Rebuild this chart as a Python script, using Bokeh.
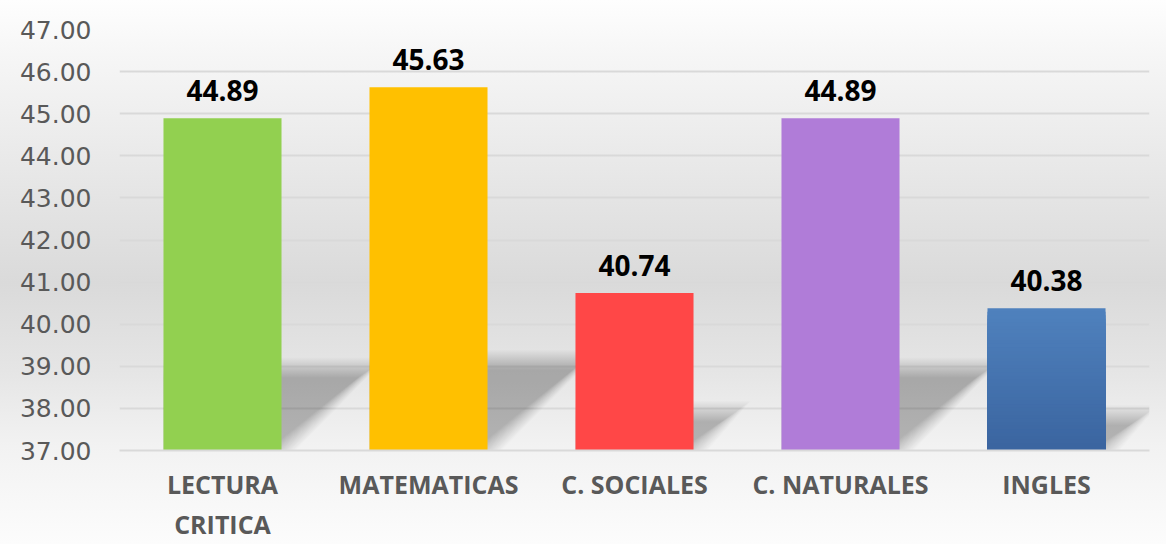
from bokeh.plotting import figure
from bokeh.models import FixedTicker, ColumnDataSource
from bokeh.core.properties import value
from bokeh.embed import file_html
from bokeh.resources import INLINE

categories = ["LECTURA\nCRITICA", "MATEMATICAS", "C. SOCIALES", "C. NATURALES", "INGLES"]
scores = [44.89, 45.63, 40.74, 44.89, 40.38]
labels = ["44.89", "45.63", "40.74", "44.89", "40.38"]
colors = ["#92d050", "#ffc000", "#ff4747", "#b07cd8", None]
y_ticks = [37, 38, 39, 40, 41, 42, 43, 44, 45, 46, 47]
y_labels = ["37.00", "38.00", "39.00", "40.00", "41.00", "42.00", "43.00", "44.00", "45.00", "46.00", "47.00"]

BASE = 37
YMAX = 47
W = 1166
H = 544
LEFT = 119
RIGHT = 17
TOP = 29
BAR_W = 0.573

p = figure(width=W, height=H, x_range=(0, len(categories)), y_range=(BASE, YMAX),
           output_backend="svg", toolbar_location=None,
           min_border_left=LEFT, min_border_right=RIGHT, min_border_top=TOP, min_border_bottom=40)
p.background_fill_alpha = 0
p.border_fill_alpha = 0
p.outline_line_color = None
p.styles = {"background-image": "linear-gradient(to bottom, #fefefe 0%, #f6f6f6 10%, #dadada 52%, #e5e5e5 68%, #f2f2f2 82%, #fcfcfc 100%)"}

# grid
p.xgrid.grid_line_color = None
p.ygrid.grid_line_color = "#d9d9d9"
p.ygrid.grid_line_width = 2
p.ygrid.ticker = FixedTicker(ticks=y_ticks)

# axes
p.yaxis.ticker = FixedTicker(ticks=y_ticks)
p.yaxis.major_label_overrides = {t: l for t, l in zip(y_ticks, y_labels)}
p.yaxis.axis_line_color = None
p.yaxis.major_tick_line_color = None
p.yaxis.minor_tick_line_color = None
p.yaxis.major_label_text_font = "DejaVu Sans"
p.yaxis.major_label_text_font_size = "25px"
p.yaxis.major_label_text_color = "#595959"
p.yaxis.major_label_standoff = 22

centers = [i + 0.5 for i in range(len(categories))]
p.xaxis.ticker = FixedTicker(ticks=centers)
p.xaxis.major_label_overrides = {c: lab for c, lab in zip(centers, categories)}
p.xaxis.axis_line_color = "#d9d9d9"
p.xaxis.axis_line_width = 2
p.xaxis.major_tick_line_color = None
p.xaxis.minor_tick_line_color = None
p.xaxis.major_label_text_font = "Open Sans"
p.xaxis.major_label_text_font_style = "bold"
p.xaxis.major_label_text_font_size = "25px"
p.xaxis.major_label_text_color = "#595959"
p.xaxis.major_label_standoff = 10

# soft shadows (derived from values), approximate pixel scale
frame_h_px = 420.0
frame_w_px = W - LEFT - RIGHT
px_per_y = frame_h_px / (YMAX - BASE)
px_per_x = frame_w_px / len(categories)
blur = list(range(-10, 11))
for d in blur:
    xs, ys = [], []
    for c, v in zip(centers, scores):
        h_px = (v - BASE) * 0.25 * px_per_y
        dx_px = h_px * 1.1
        L, R = c - BAR_W / 2, c + BAR_W / 2
        top = BASE + (h_px - d) / px_per_y
        s = d * 1.4 / px_per_x
        xs.append([L, R - s, R + dx_px / px_per_x - s, L])
        ys.append([BASE, BASE, top, top])
    p.patches(xs, ys, fill_color="#000000", fill_alpha=0.0105, line_color=None)

# bars
solid = [(c, v, col) for c, v, col in zip(centers, scores, colors) if col]
src = ColumnDataSource(dict(x=[s[0] for s in solid], top=[s[1] for s in solid], color=[s[2] for s in solid]))
p.vbar(x="x", top="top", bottom=BASE, width=BAR_W, fill_color="color", line_color=None, source=src)

# gradient bar (INGLES): stacked from base, tallest first
def lerp(a, b, t):
    return tuple(int(round(a[k] + (b[k] - a[k]) * t)) for k in range(3))
top_c = (0x4f, 0x81, 0xbd)
bot_c = (0x3a, 0x64, 0x9f)
for c, v, col in zip(centers, scores, colors):
    if col:
        continue
    n = 40
    for k in range(n, 0, -1):
        t = k / n
        rgb = lerp(bot_c, top_c, t)
        p.quad(left=c - BAR_W / 2, right=c + BAR_W / 2, bottom=BASE, top=BASE + (v - BASE) * t,
               fill_color="#%02x%02x%02x" % rgb, line_color=None)

# value labels
p.text(x=centers, y=scores, text=labels, text_align="center", text_baseline="bottom",
       y_offset=-17, text_font=value("Open Sans"), text_font_style="bold",
       text_font_size="28px", text_color="#000000")

open("out.html", "w").write(file_html(p, INLINE))
